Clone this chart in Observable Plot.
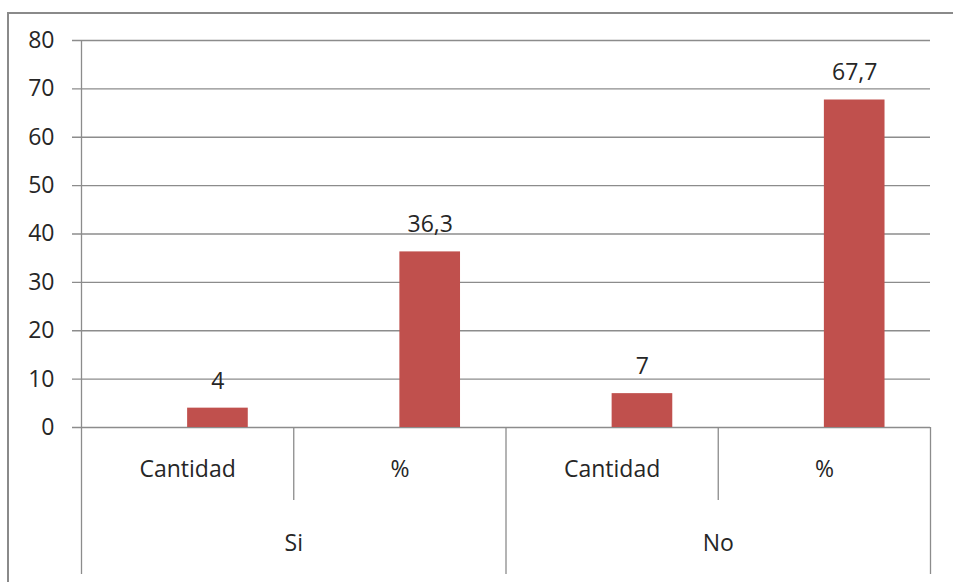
<!DOCTYPE html>
<html>
<head>
<meta charset="utf-8">
<script src="https://cdn.jsdelivr.net/npm/d3@7"></script>
<script src="https://cdn.jsdelivr.net/npm/@observablehq/plot@0.6"></script>
<style>
  html, body { margin: 0; padding: 0; background: #fff; }
  #wrap { position: relative; width: 953px; height: 582px; overflow: hidden; }
  #border { position: absolute; left: 7px; top: 12px; width: 960px; height: 600px;
            border-left: 2px solid #8a8a8a; border-top: 2px solid #8a8a8a; box-sizing: border-box; }
  #chart { position: absolute; left: 0; top: 0; }
</style>
</head>
<body>
<div id="wrap"><div id="border"></div><div id="chart"></div></div>
<script>
// Respuestas por grupo: cantidad absoluta y porcentaje
const groups = ["Si", "Si", "No", "No"];
const subcategories = ["Cantidad", "%", "Cantidad", "%"];
const values = [4, 36.3, 7, 67.7];
const yTicks = [0, 10, 20, 30, 40, 50, 60, 70, 80];

const barColor = "#C0504D";
const gridColor = "#8c8c8c";
const textColor = "#262626";
const font = "'Open Sans', sans-serif";
const fs = 23;

// Excel-style clustered layout: two series per category, gap width 150%,
// the first series is empty so each bar sits right of its category center.
const barFrac = 1 / 3.5;

const rows = values.map((v, i) => ({
  i, group: groups[i], sub: subcategories[i], value: v,
  label: String(v).replace(".", ",")
}));

// category boundaries
const subBounds = [];
const groupBounds = [0];
for (let i = 1; i < rows.length; i++) {
  if (groups[i] === groups[i - 1]) subBounds.push(i);
  else groupBounds.push(i);
}
groupBounds.push(rows.length);

// group label positions (center of each run of equal groups)
const groupLabels = [];
for (let k = 0; k < groupBounds.length - 1; k++) {
  groupLabels.push({
    name: groups[groupBounds[k]],
    x: (groupBounds[k] + groupBounds[k + 1]) / 2
  });
}

const chart = Plot.plot({
  width: 953,
  height: 582,
  marginLeft: 81,
  marginRight: 23,
  marginTop: 40,
  marginBottom: 155,
  style: { fontFamily: font, fontSize: fs + "px", color: textColor, background: "transparent", overflow: "visible" },
  x: { domain: [0, rows.length], axis: null },
  y: { domain: [0, 80], axis: null },
  marks: [
    // horizontal gridlines, extended left as tick marks
    Plot.ruleY(yTicks, { stroke: gridColor, strokeWidth: 1.3, insetLeft: -9 }),
    // y axis line
    Plot.ruleX([0], { stroke: gridColor, strokeWidth: 1.3 }),
    // y tick labels
    Plot.axisY({ ticks: yTicks, label: null, tickSize: 0, tickPadding: 27, fontSize: fs, fill: textColor, fontFamily: font }),
    // bars
    Plot.rectY(rows, {
      x1: d => d.i + 0.5,
      x2: d => d.i + 0.5 + barFrac,
      y1: 0,
      y2: "value",
      fill: barColor
    }),
    // value labels
    Plot.text(rows, {
      x: d => d.i + 0.5 + barFrac / 2,
      y: "value",
      text: "label",
      dy: -27,
      fill: textColor,
      fontSize: fs
    }),
    // category separators below the axis
    Plot.ruleX(subBounds, { y1: 0, y2: 0, insetBottom: -73, stroke: gridColor, strokeWidth: 1.3 }),
    Plot.ruleX(groupBounds, { y1: 0, y2: 0, insetBottom: -147, stroke: gridColor, strokeWidth: 1.3 }),
    // subcategory labels
    Plot.text(rows, {
      x: d => d.i + 0.5,
      y: 0,
      text: "sub",
      dy: 42,
      fill: textColor,
      fontSize: fs
    }),
    // group labels
    Plot.text(groupLabels, {
      x: "x",
      y: 0,
      text: "name",
      dy: 116,
      fill: textColor,
      fontSize: fs
    })
  ]
});

document.getElementById("chart").appendChild(chart);
</script>
</body>
</html>
